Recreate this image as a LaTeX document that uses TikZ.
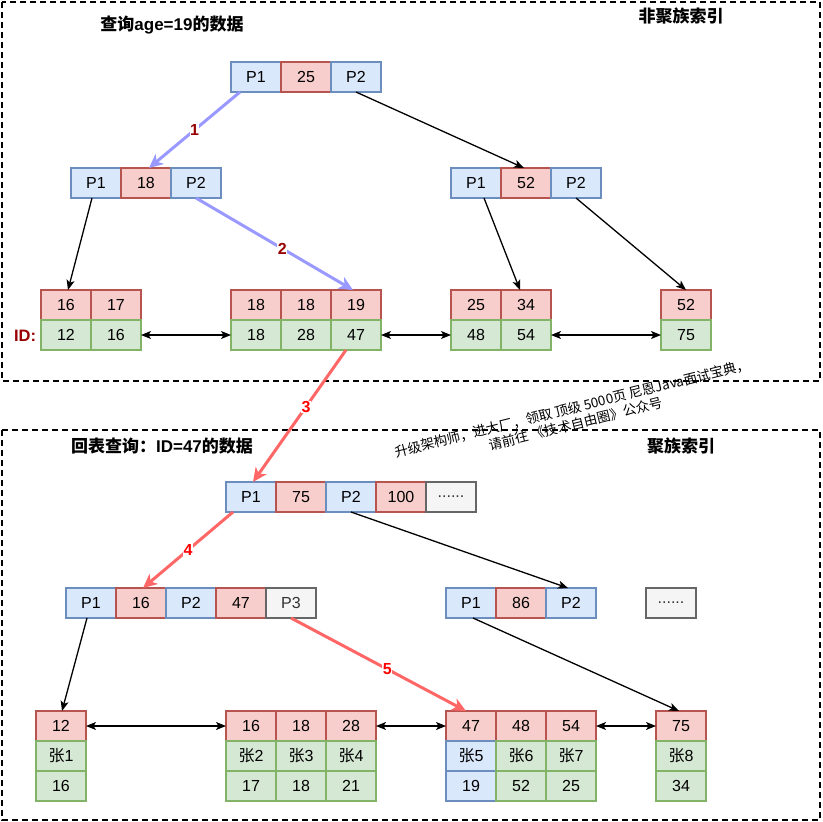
\documentclass[tikz,border=0pt]{standalone}
\usepackage{fontspec}
\setmainfont{Liberation Sans}
\newfontfamily\cjk{Noto Sans CJK SC}
\usepackage{tikz}
\usetikzlibrary{arrows.meta,positioning}
\definecolor{pfill}{HTML}{DAE8FC}
\definecolor{pline}{HTML}{6C8EBF}
\definecolor{kfill}{HTML}{F8CECC}
\definecolor{kline}{HTML}{B85450}
\definecolor{vfill}{HTML}{D5E8D4}
\definecolor{vline}{HTML}{82B366}
\definecolor{gfill}{HTML}{F5F5F5}
\definecolor{gline}{HTML}{666666}
\definecolor{purp}{HTML}{9999FF}
\definecolor{redarr}{HTML}{FF6666}
\definecolor{darkred}{HTML}{990000}
\tikzset{
  cell/.style={draw, minimum width=50pt, minimum height=30pt, inner sep=0pt,
    outer sep=0pt, line width=1.3pt, font=\fontsize{16}{19}\selectfont},
  pcell/.style={cell, fill=pfill, draw=pline},
  kcell/.style={cell, fill=kfill, draw=kline},
  vcell/.style={cell, fill=vfill, draw=vline},
  gcell/.style={cell, fill=gfill, draw=gline, text=black!80},
  headtext/.style={font=\fontsize{17}{20}\selectfont\bfseries},
  idtag/.style={font=\fontsize{16.5}{19}\selectfont\bfseries, text=darkred},
  stepno/.style={fill=white, inner sep=0.5pt, font=\fontsize{16}{19}\selectfont\bfseries},
  tolink/.style={-{Stealth[length=10pt,width=8pt,inset=2.5pt]}, line width=1.3pt},
  dlink/.style={{Stealth[length=10pt,width=8pt,inset=2.5pt]}-{Stealth[length=10pt,width=8pt,inset=2.5pt]}, line width=1.3pt},
  bluepath/.style={-{Stealth[length=14pt,width=13pt,inset=4pt]}, line width=3pt, draw=purp},
  redpath/.style={-{Stealth[length=14pt,width=13pt,inset=4pt]}, line width=3pt, draw=redarr}
}
\begin{document}
\begin{tikzpicture}[x=1pt,y=-1pt] %the two indexes
    \useasboundingbox (0,0) rectangle (822,822);
    %the frames
    \draw[line width=1.5pt, dash pattern=on 6pt off 4pt] (2,2) rectangle (820,381);
    \draw[line width=1.5pt, dash pattern=on 6pt off 4pt] (2,430) rectangle (820,820);
    \node[headtext] (q1) at (172,25) {{\cjk 查询}age=19{\cjk 的数据}};
    \node[headtext] (h1) at (681,16) {\cjk 非聚族索引};
    \node[headtext] (q2) at (162,446) {{\cjk 回表查询：}ID=47{\cjk 的数据}};
    \node[headtext] (h2) at (681,446) {\cjk 聚族索引};
%secondary index: inner pages
    \node[pcell] (r1) at (256,77) {P1};
    \node[kcell, right=0pt of r1] (r2) {25};
    \node[pcell, right=0pt of r2] (r3) {P2};
    \node[pcell] (m1) at (96,183) {P1};
    \node[kcell, right=0pt of m1] (m2) {18};
    \node[pcell, right=0pt of m2] (m3) {P2};
    \node[pcell] (n1) at (476,183) {P1};
    \node[kcell, right=0pt of n1] (n2) {52};
    \node[pcell, right=0pt of n2] (n3) {P2};
%secondary index: leaves (age over ID)
    \node[kcell] (a1) at (66,305) {16};
    \node[kcell, right=0pt of a1] (a2) {17};
    \node[vcell, below=0pt of a1] (ai1) {12};
    \node[vcell, below=0pt of a2] (ai2) {16};
    \node[kcell] (b1) at (256,305) {18};
    \node[kcell, right=0pt of b1] (b2) {18};
    \node[kcell, right=0pt of b2] (b3) {19};
    \node[vcell, below=0pt of b1] (bi1) {18};
    \node[vcell, below=0pt of b2] (bi2) {28};
    \node[vcell, below=0pt of b3] (bi3) {47};
    \node[kcell] (c1) at (476,305) {25};
    \node[kcell, right=0pt of c1] (c2) {34};
    \node[vcell, below=0pt of c1] (ci1) {48};
    \node[vcell, below=0pt of c2] (ci2) {54};
    \node[kcell] (d1) at (686,305) {52};
    \node[vcell, below=0pt of d1] (di1) {75};
    \node[idtag] (idl) at (25,336) {ID:};
%secondary index: arrows
    \draw[bluepath] ([xshift=-16pt]r1.south) -- node[stepno, text=darkred] {1} ([xshift=3pt]m2.north);
    \draw[tolink] (r3.south) -- ([xshift=-2pt]n2.north);
    \draw[tolink] ([xshift=-4pt]m1.south) -- ([xshift=2pt]a1.north);
    \draw[bluepath] (m3.south) -- node[stepno, text=darkred, pos=0.55] {2} ([xshift=-3pt]b3.north);
    \draw[tolink] ([xshift=8pt]n1.south) -- ([xshift=-6pt]c2.north);
    \draw[tolink] (n3.south) -- (d1.north);
    \draw[dlink] (ai2.east) -- (bi1.west);
    \draw[dlink] (bi3.east) -- (ci1.west);
    \draw[dlink] (ci2.east) -- (di1.west);
%clustered index: inner pages
    \node[pcell] (R1) at (251,497) {P1};
    \node[kcell, right=0pt of R1] (R2) {75};
    \node[pcell, right=0pt of R2] (R3) {P2};
    \node[kcell, right=0pt of R3] (R4) {100};
    \node[gcell, right=0pt of R4] (R5) {......};
    \node[pcell] (M1) at (91,603) {P1};
    \node[kcell, right=0pt of M1] (M2) {16};
    \node[pcell, right=0pt of M2] (M3) {P2};
    \node[kcell, right=0pt of M3] (M4) {47};
    \node[gcell, right=0pt of M4] (M5) {P3};
    \node[pcell] (N1) at (471,603) {P1};
    \node[kcell, right=0pt of N1] (N2) {86};
    \node[pcell, right=0pt of N2] (N3) {P2};
    \node[gcell] (N4) at (671,603) {......};
%clustered index: leaves (ID, name, age)
    \node[kcell] (A1) at (61,726) {12};
    \node[vcell, below=0pt of A1] (An1) {{\cjk 张}1};
    \node[vcell, below=0pt of An1] (Ag1) {16};
    \node[kcell] (B1) at (251,726) {16};
    \node[kcell, right=0pt of B1] (B2) {18};
    \node[kcell, right=0pt of B2] (B3) {28};
    \node[vcell, below=0pt of B1] (Bn1) {{\cjk 张}2};
    \node[vcell, below=0pt of B2] (Bn2) {{\cjk 张}3};
    \node[vcell, below=0pt of B3] (Bn3) {{\cjk 张}4};
    \node[vcell, below=0pt of Bn1] (Bg1) {17};
    \node[vcell, below=0pt of Bn2] (Bg2) {18};
    \node[vcell, below=0pt of Bn3] (Bg3) {21};
    \node[kcell] (C1) at (471,726) {47};
    \node[kcell, right=0pt of C1] (C2) {48};
    \node[kcell, right=0pt of C2] (C3) {54};
    \node[pcell, below=0pt of C1] (Cn1) {{\cjk 张}5};
    \node[vcell, below=0pt of C2] (Cn2) {{\cjk 张}6};
    \node[vcell, below=0pt of C3] (Cn3) {{\cjk 张}7};
    \node[pcell, below=0pt of Cn1] (Cg1) {19};
    \node[vcell, below=0pt of Cn2] (Cg2) {52};
    \node[vcell, below=0pt of Cn3] (Cg3) {25};
    \node[kcell] (D1) at (681,726) {75};
    \node[vcell, below=0pt of D1] (Dn1) {{\cjk 张}8};
    \node[vcell, below=0pt of Dn1] (Dg1) {34};
%clustered index: arrows
    \draw[redpath] ([xshift=-10pt]bi3.south) -- node[stepno, text=red, pos=0.43] {3} ([xshift=2pt]R1.north);
    \draw[redpath] ([xshift=-18pt]R1.south) -- node[stepno, text=red] {4} ([xshift=2pt]M2.north);
    \draw[tolink] (R3.south) -- ([xshift=-3pt]N3.north);
    \draw[tolink] ([xshift=-4pt]M1.south) -- ([xshift=1pt]A1.north);
    \draw[redpath] (M5.south) -- node[stepno, text=red, pos=0.55] {5} ([xshift=-5pt]C1.north);
    \draw[tolink] ([xshift=2pt]N1.south) -- ([xshift=-2pt]D1.north);
    \draw[dlink] (A1.east) -- (B1.west);
    \draw[dlink] (B3.east) -- (C1.west);
    \draw[dlink] (C3.east) -- (D1.west);
%the note across the gap
    \node[rotate=14, align=center, font=\cjk\fontsize{13.5}{16}\selectfont] (ad) at (574,416)
      {升级架构师，进大厂，领取 顶级 5000页 尼恩Java面试宝典，\\请前往 《技术自由圈》公众号};
\end{tikzpicture}
\end{document}
